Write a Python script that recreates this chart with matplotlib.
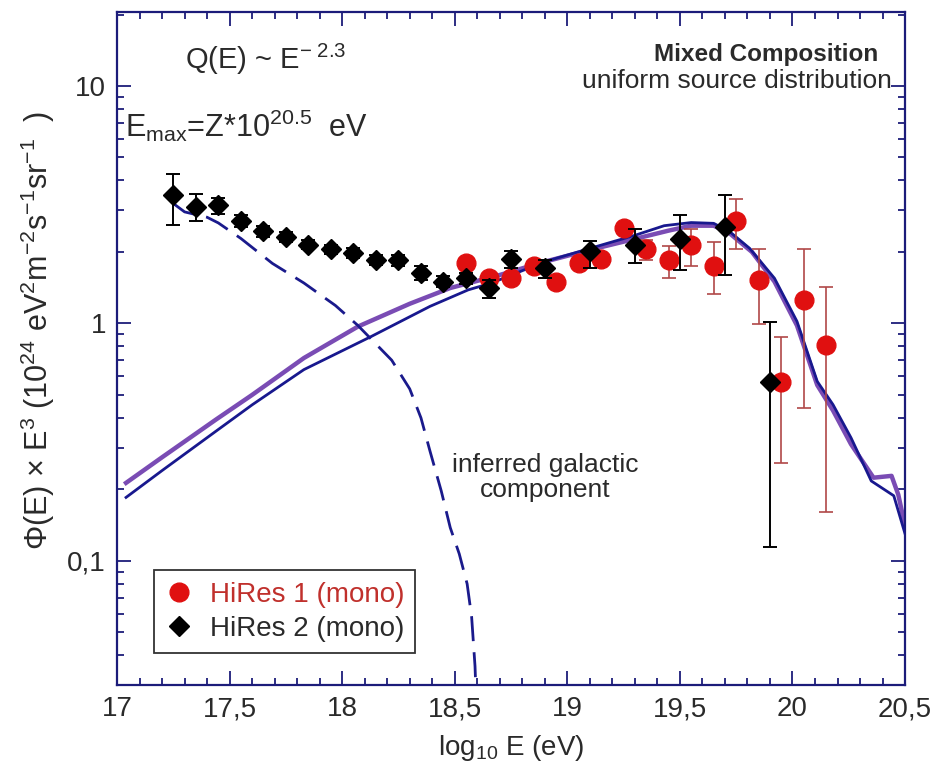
import matplotlib
matplotlib.use("Agg")
import matplotlib.pyplot as plt
from matplotlib.ticker import FixedLocator, FuncFormatter, LogLocator, NullFormatter
from matplotlib.lines import Line2D
import numpy as np

plt.rcParams['font.family'] = ['Liberation Sans', 'DejaVu Sans']
plt.rcParams['mathtext.fontset'] = 'custom'
plt.rcParams['mathtext.rm'] = 'Liberation Sans'
plt.rcParams['mathtext.it'] = 'Liberation Sans'
plt.rcParams['mathtext.default'] = 'regular'

# HiRes 1 (mono) - red circles
hr1_x = [18.55, 18.65, 18.75, 18.85, 18.95, 19.05, 19.15, 19.25, 19.35, 19.45,
         19.55, 19.65, 19.75, 19.85, 19.95, 20.05, 20.15]
hr1_y = [1.80, 1.55, 1.55, 1.74, 1.50, 1.80, 1.87, 2.52, 2.06, 1.85,
         2.14, 1.74, 2.71, 1.53, 0.567, 1.26, 0.814]
hr1_lo = [1.72, 1.48, 1.48, 1.66, 1.43, 1.72, 1.78, 2.40, 1.85, 1.56,
          1.74, 1.33, 2.06, 0.99, 0.259, 0.44, 0.161]
hr1_hi = [1.88, 1.62, 1.62, 1.82, 1.57, 1.88, 1.96, 2.64, 2.25, 2.11,
          2.50, 2.20, 3.34, 2.06, 0.876, 2.06, 1.43]

# HiRes 2 (mono) - black diamonds
hr2_x = [17.25, 17.35, 17.45, 17.55, 17.65, 17.75, 17.85, 17.95, 18.05, 18.15,
         18.25, 18.35, 18.45, 18.55, 18.65, 18.75, 18.9, 19.1, 19.3, 19.5,
         19.7, 19.9]
hr2_y = [3.47, 3.10, 3.15, 2.70, 2.45, 2.31, 2.15, 2.06, 1.98, 1.85,
         1.85, 1.63, 1.50, 1.55, 1.41, 1.86, 1.71, 2.01, 2.15, 2.27,
         2.56, 0.567]
hr2_lo = [2.61, 2.71, 2.89, 2.55, 2.32, 2.20, 2.05, 1.97, 1.89, 1.76,
          1.75, 1.53, 1.42, 1.47, 1.28, 1.71, 1.55, 1.71, 1.80, 1.68,
          1.60, 0.114]
hr2_hi = [4.26, 3.52, 3.39, 2.85, 2.58, 2.42, 2.25, 2.15, 2.07, 1.94,
          1.95, 1.75, 1.58, 1.63, 1.52, 2.02, 1.85, 2.22, 2.50, 2.86,
          3.47, 1.01]

# model curves
purple_x = [17.04, 17.2, 17.44, 17.6, 17.83, 18.07, 18.3, 18.48, 18.7, 18.9,
            19.1, 19.3, 19.45, 19.55, 19.65, 19.72, 19.82, 19.92, 20.02, 20.11,
            20.18, 20.26, 20.36, 20.44, 20.47, 20.5]
purple_y = [0.213, 0.273, 0.394, 0.50, 0.715, 0.97, 1.21, 1.41, 1.60, 1.82,
            2.04, 2.27, 2.46, 2.58, 2.58, 2.40, 2.00, 1.50, 0.98, 0.55,
            0.43, 0.31, 0.224, 0.228, 0.19, 0.14]
blue_x = [17.04, 17.2, 17.44, 17.6, 17.83, 18.13, 18.39, 18.56, 18.66, 18.9,
          19.13, 19.3, 19.43, 19.55, 19.65, 19.72, 19.81, 19.92, 20.02, 20.11,
          20.18, 20.26, 20.35, 20.45, 20.5]
blue_y = [0.185, 0.24, 0.352, 0.454, 0.639, 0.882, 1.18, 1.385, 1.476, 1.82,
          2.11, 2.35, 2.58, 2.66, 2.64, 2.44, 2.07, 1.55, 1.02, 0.57,
          0.455, 0.33, 0.217, 0.188, 0.13]
gal_x = [17.25, 17.3, 17.4, 17.45, 17.55, 17.69, 17.83, 17.97, 18.07, 18.22,
         18.3, 18.35, 18.39, 18.44, 18.48, 18.52, 18.555, 18.575, 18.59, 18.6]
gal_y = [3.2, 2.95, 2.8, 2.65, 2.28, 1.79, 1.48, 1.19, 0.98, 0.70,
         0.53, 0.40, 0.29, 0.197, 0.138, 0.107, 0.080, 0.058, 0.036, 0.02]

navy = '#1c1c7a'
txt = '#2a2a2a'

fig = plt.figure(figsize=(9.34, 7.74), dpi=100)
ax = fig.add_axes([0.1253, 0.115, 0.8437, 0.8695])

ax.plot(purple_x, purple_y, color='#7a4cb4', lw=3.2, zorder=2)
ax.plot(blue_x, blue_y, color='#18188e', lw=2.0, zorder=3)
ax.plot(gal_x, gal_y, color='#1a1a8c', lw=2.0, ls=(0, (9, 4)), zorder=2)

hr1_err = [np.array(hr1_y) - np.array(hr1_lo), np.array(hr1_hi) - np.array(hr1_y)]
ax.errorbar(hr1_x, hr1_y, yerr=hr1_err, fmt='o', color='#e01010', ms=13.5,
            ecolor='#b04848', elinewidth=1.2, capsize=5, capthick=1.2, zorder=4)
hr2_err = [np.array(hr2_y) - np.array(hr2_lo), np.array(hr2_hi) - np.array(hr2_y)]
ax.errorbar(hr2_x, hr2_y, yerr=hr2_err, fmt='D', color='black', ms=10.5,
            ecolor='black', elinewidth=1.4, capsize=5, capthick=1.4, zorder=5)

ax.set_yscale('log')
ax.set_xlim(17, 20.5)
ax.set_ylim(0.03, 20.5)

ax.xaxis.set_major_locator(FixedLocator([17, 17.5, 18, 18.5, 19, 19.5, 20, 20.5]))
ax.xaxis.set_minor_locator(FixedLocator(np.arange(17, 20.51, 0.1)))
ax.xaxis.set_major_formatter(FuncFormatter(lambda v, p: ('%g' % v).replace('.', ',')))
ax.yaxis.set_major_locator(FixedLocator([0.1, 1, 10]))
ax.yaxis.set_minor_locator(LogLocator(base=10, subs=np.arange(2, 10)))
ax.yaxis.set_minor_formatter(NullFormatter())
ax.yaxis.set_major_formatter(FuncFormatter(lambda v, p: ('%g' % v).replace('.', ',')))

for s in ax.spines.values():
    s.set_color(navy)
    s.set_linewidth(1.6)
ax.tick_params(which='both', direction='in', top=True, right=True, color=navy,
               labelsize=20, labelcolor=txt, width=1.3, pad=8)
ax.tick_params(which='major', length=10)
ax.tick_params(which='minor', length=5)

ax.set_xlabel('log$_{10}$ E (eV)', fontsize=20, color=txt, labelpad=8)
ax.set_ylabel('\u03a6(E) \u00d7 E$^3$ (10$^{24}$ eV$^2$m$^{-2}$s$^{-1}$sr$^{-1}$  )',
              fontsize=22, color=txt)
ax.yaxis.set_label_coords(-0.076, 0.527)

ax.text(17.30, 12.9, 'Q(E) ~ E$^{-\\ 2.3}$', fontsize=21, color=txt, va='center')
ax.text(17.035, 6.8, 'E$_{max}$=Z*10$^{20.5}$  eV', fontsize=22, color=txt, va='center')
ax.text(20.38, 13.6, 'Mixed Composition', fontsize=17.5, fontweight='bold',
        color=txt, ha='right', va='center')
ax.text(20.44, 10.5, 'uniform source distribution', fontsize=19,
        color=txt, ha='right', va='center')
ax.text(18.9, 0.225, 'inferred galactic\ncomponent', fontsize=19, color=txt,
        ha='center', va='center', linespacing=1.05)

handles = [Line2D([], [], marker='o', ls='none', color='#e01010', ms=13.5),
           Line2D([], [], marker='D', ls='none', color='black', ms=10.5)]
leg = ax.legend(handles, ['HiRes 1 (mono)', 'HiRes 2 (mono)'], loc='lower left',
                bbox_to_anchor=(0.047, 0.0475), borderaxespad=0, fontsize=20,
                fancybox=False, edgecolor='black', handlelength=1.0,
                handletextpad=0.6, borderpad=0.4, labelspacing=0.3)
leg.get_frame().set_linewidth(1.3)
leg.get_texts()[0].set_color('#c0302c')
leg.get_texts()[1].set_color(txt)

fig.savefig('out.png', dpi=100)
